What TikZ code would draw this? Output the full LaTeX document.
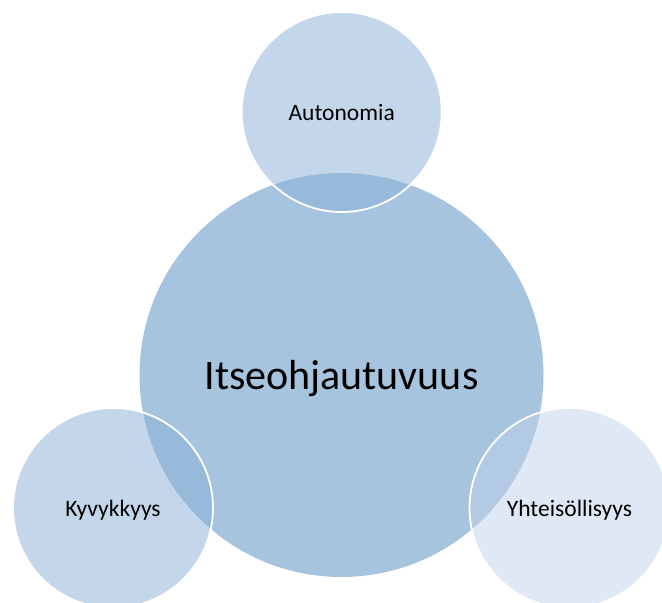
\documentclass[tikz,border=0pt]{standalone}
\usepackage{fontspec}
\setmainfont{Carlito}
\definecolor{hubfill}{RGB}{167,196,223}
\definecolor{petalfill}{RGB}{137,175,214}
\definecolor{lightfill}{RGB}{191,209,233}

\begin{document}
\begin{tikzpicture}[
    x=1pt, y=1pt,
    hub/.style   = {circle, fill=hubfill, minimum size=404pt, inner sep=0pt,
                    text depth=0pt, font=\fontsize{42}{48}\selectfont},
    petal/.style = {circle, fill=petalfill, fill opacity=0.5, text opacity=1,
                    draw=white, line width=1.8pt, minimum size=200pt, inner sep=0pt,
                    text depth=0pt, font=\fontsize{23.5}{28}\selectfont}
]
\useasboundingbox (0,0) rectangle (662,603);
\clip (0,0) rectangle (662,603);

% =====================
% Centre
% =====================
\node[hub] (itse) at (341.5,228) {Itseohjautuvuus};

% =====================
% Surrounding circles
% =====================
\node[petal] (auto) at (341.7,491) {Autonomia};
\node[petal] (kyky) at (113,95) {Kyvykkyys};
\node[petal, fill=lightfill] (yhte) at (569.5,95) {Yhteisöllisyys};

\end{tikzpicture}
\end{document}
